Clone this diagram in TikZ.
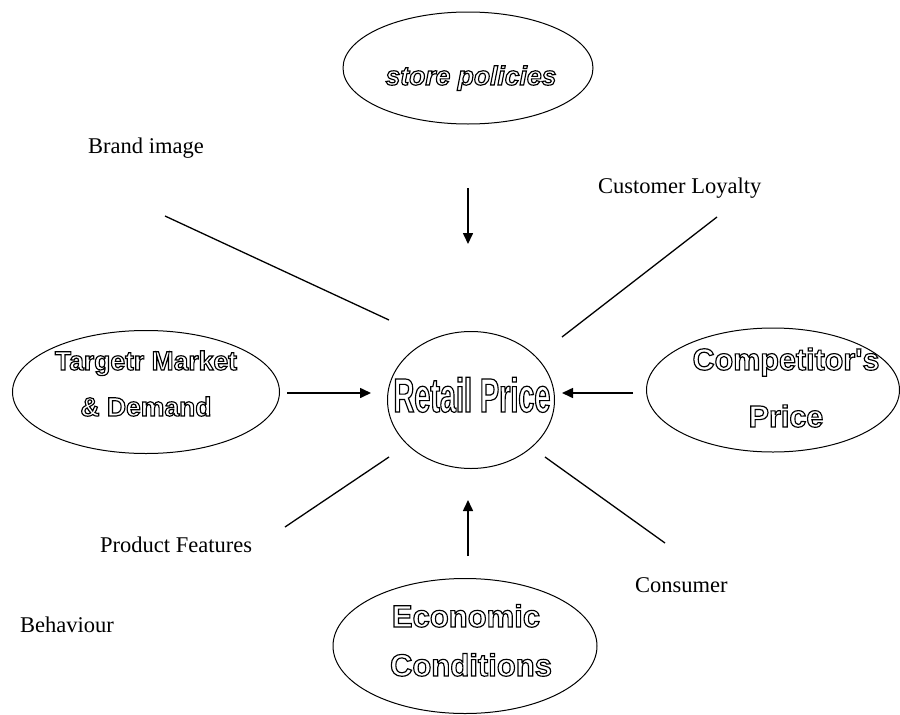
\documentclass[tikz,border=0pt]{standalone}
\usepackage{fontspec}
\setmainfont{Liberation Serif}
\newfontfamily\hollowfont{Liberation Sans}
\newfontfamily\narrowfont[FakeStretch=0.6]{Liberation Sans}
\usetikzlibrary{shapes.geometric,arrows.meta}
\newcommand\hollow[1]{\special{pdf:literal direct 1 Tr 1.15 w}#1\special{pdf:literal direct 0 Tr}}
\tikzset{
  bubble/.style={draw, ellipse, line width=1pt, inner sep=0pt},
  lbl/.style={font=\fontsize{22.5}{27}\selectfont, inner sep=0pt, anchor=base west},
  spoke/.style={line width=1.3pt},
  arr/.style={line width=1.6pt, -{Triangle[length=11pt,width=10pt]}},
}
\begin{document}
\begin{tikzpicture}[x=1pt,y=-1pt]
\useasboundingbox (0,0) rectangle (900,715);
% ellipses
\node[bubble, minimum width=250, minimum height=112] (store) at (468,68) {};
\node[bubble, minimum width=167, minimum height=137] (retail) at (471,400) {};
\node[bubble, minimum width=267, minimum height=123] (target) at (146,392) {};
\node[bubble, minimum width=253, minimum height=124] (comp) at (773,390) {};
\node[bubble, minimum width=264, minimum height=135] (econ) at (465,646) {};
% hollow texts
\node[inner sep=0pt, anchor=base, font=\hollowfont\bfseries\itshape\fontsize{26.5}{30}\selectfont] (storet) at (471,85) {\hollow{store policies}};
\node[inner sep=0pt, anchor=base, font=\narrowfont\bfseries\fontsize{48}{50}\selectfont] (retailt) at (472,412) {\hollow{Retail Price}};
\node[inner sep=0pt, anchor=base, font=\hollowfont\bfseries\fontsize{26.5}{30}\selectfont] (target1) at (146,370) {\hollow{Targetr Market}};
\node[inner sep=0pt, anchor=base, font=\hollowfont\bfseries\fontsize{26.5}{30}\selectfont] (target2) at (146,416) {\hollow{\& Demand}};
\node[inner sep=0pt, anchor=base, font=\hollowfont\bfseries\fontsize{30.5}{34}\selectfont] (comp1) at (786,370) {\hollow{Competitor's}};
\node[inner sep=0pt, anchor=base, font=\hollowfont\bfseries\fontsize{30.5}{34}\selectfont] (comp2) at (786,427) {\hollow{Price}};
\node[inner sep=0pt, anchor=base, font=\hollowfont\bfseries\fontsize{31}{34}\selectfont] (econ1) at (466,627) {\hollow{Economic}};
\node[inner sep=0pt, anchor=base, font=\hollowfont\bfseries\fontsize{31}{34}\selectfont] (econ2) at (471,676) {\hollow{Conditions}};
% labels
\node[lbl] (brand) at (88,153) {Brand image};
\node[lbl] (loyal) at (598,193) {Customer Loyalty};
\node[lbl] (prod) at (100,552) {Product Features};
\node[lbl] (cons) at (635,592) {Consumer};
\node[lbl] (behav) at (20,632) {Behaviour};
% spoke coordinates
\coordinate (b1) at (165,216); \coordinate (b2) at (389,320);
\coordinate (c1) at (717,217); \coordinate (c2) at (562,337);
\coordinate (p1) at (389,457); \coordinate (p2) at (285,527);
\coordinate (k1) at (545,457); \coordinate (k2) at (665,543);
\draw[spoke] (b1) -- (b2);
\draw[spoke] (c1) -- (c2);
\draw[spoke] (p1) -- (p2);
\draw[spoke] (k1) -- (k2);
% arrow coordinates
\coordinate (d1) at (468,188); \coordinate (d2) at (468,244);
\coordinate (l1) at (287,393); \coordinate (l2) at (371,393);
\coordinate (r1) at (633,393); \coordinate (r2) at (562,393);
\coordinate (u1) at (468,556); \coordinate (u2) at (468,500);
\draw[arr] (d1) -- (d2);
\draw[arr] (l1) -- (l2);
\draw[arr] (r1) -- (r2);
\draw[arr] (u1) -- (u2);
\end{tikzpicture}
\end{document}
